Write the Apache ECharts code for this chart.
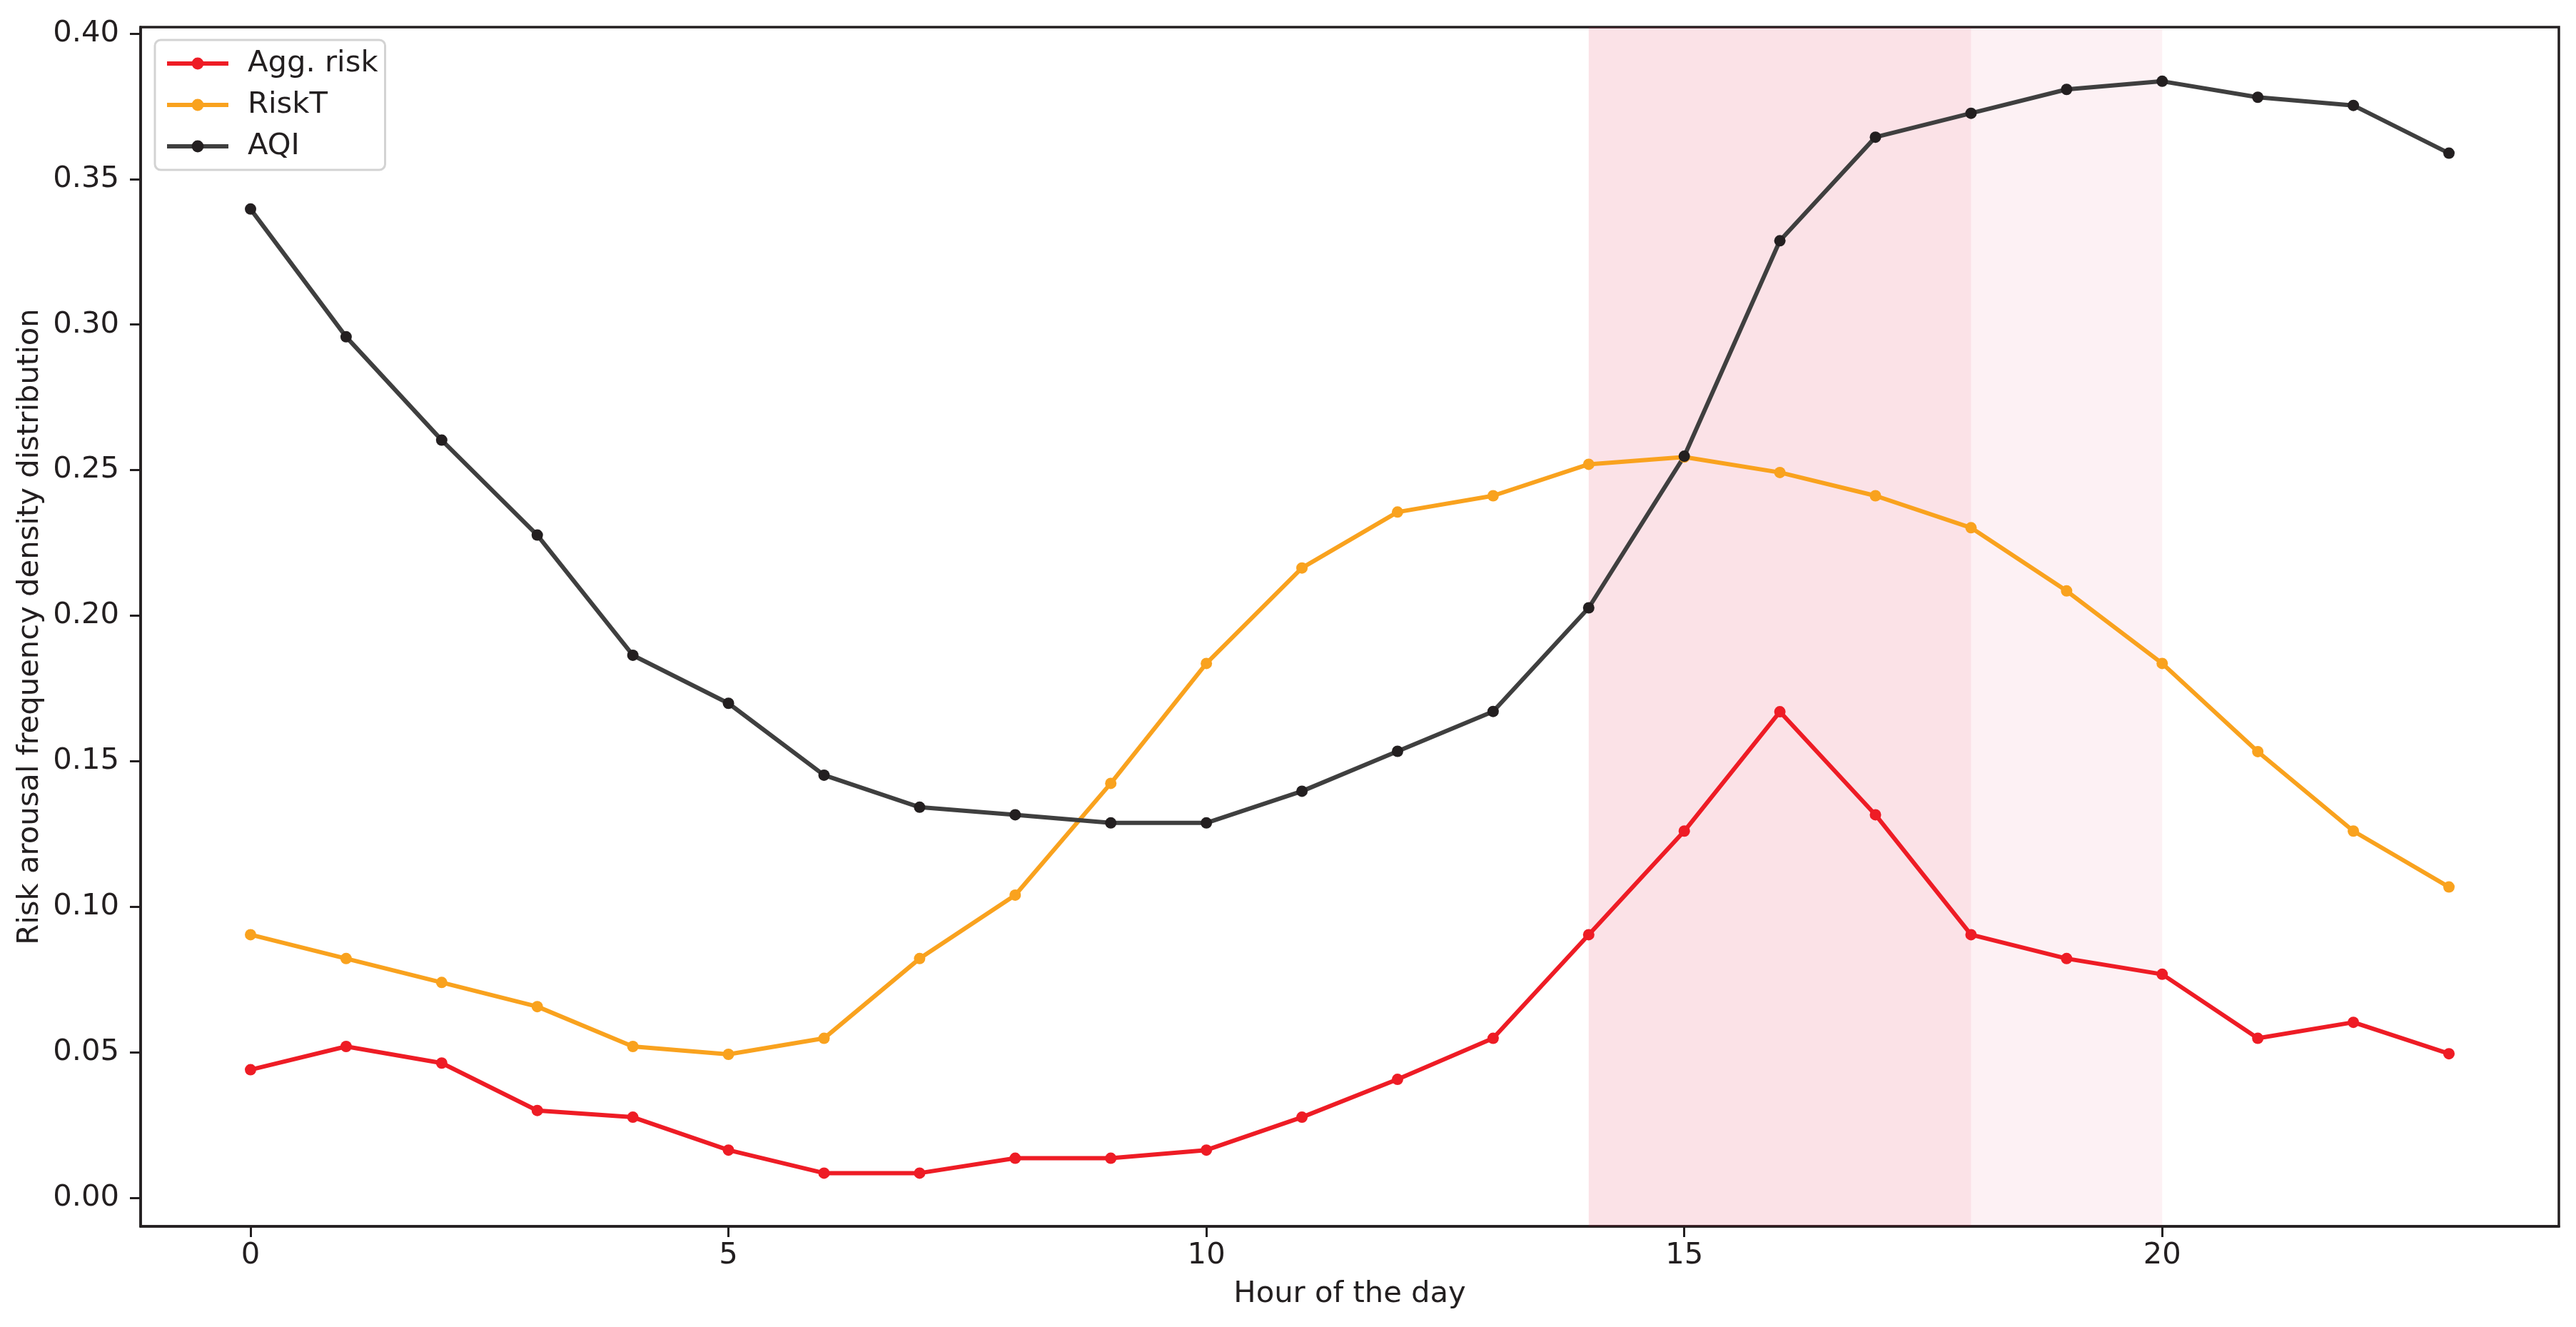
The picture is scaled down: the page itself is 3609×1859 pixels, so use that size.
<!DOCTYPE html>
<html>
<head>
<meta charset="utf-8">
<script src="https://cdn.jsdelivr.net/npm/echarts@6/dist/echarts.min.js"></script>
<style>
html,body{margin:0;padding:0;background:#fff;}
#chart{width:3609px;height:1859px;}
</style>
</head>
<body>
<div id="chart"></div>
<script>
const hours = [0,1,2,3,4,5,6,7,8,9,10,11,12,13,14,15,16,17,18,19,20,21,22,23];
const aggRisk = [0.0440,0.0520,0.0463,0.0300,0.0277,0.0164,0.0085,0.0085,0.0136,0.0136,0.0164,0.0277,0.0407,0.0548,0.0904,0.1260,0.1670,0.1316,0.0904,0.0822,0.0768,0.0548,0.0603,0.0495];
const riskT = [0.0904,0.0822,0.0740,0.0657,0.0520,0.0493,0.0548,0.0822,0.1040,0.1424,0.1836,0.2164,0.2356,0.2412,0.2520,0.2545,0.2492,0.2412,0.2302,0.2085,0.1836,0.1533,0.1260,0.1068];
const aqi = [0.3397,0.2958,0.2603,0.2277,0.1864,0.1699,0.1452,0.1342,0.1316,0.1288,0.1288,0.1397,0.1534,0.1671,0.2027,0.2548,0.3288,0.3644,0.3726,0.3808,0.3836,0.3781,0.3753,0.3589];
const seriesNames = ['Agg. risk','RiskT','AQI'];
const xTicks = [0,5,10,15,20];
const yTicks = [0,0.05,0.10,0.15,0.20,0.25,0.30,0.35,0.40];
const spanStrong = [14,18];
const spanLight = [18,20];

const font = 'DejaVu Sans';
const fs = 41.7;
const axisColor = '#231f20';

function pairs(vals){ return hours.map((h,i)=>[h,vals[i]]); }

function lineSeries(name, vals, lineColor, markerColor){
  return {
    name: name, type: 'line', data: pairs(vals),
    symbol: 'circle', symbolSize: 16, showSymbol: true,
    lineStyle: {color: lineColor, width: 6},
    itemStyle: {color: markerColor, borderWidth: 0},
    emphasis: {disabled: true},
    animation: false, z: 3
  };
}

const chart = echarts.init(document.getElementById('chart'), null, {renderer:'canvas'});
chart.setOption({
  backgroundColor: '#ffffff',
  animation: false,
  grid: {left: 197, right: 24, top: 38, bottom: 141, containLabel: false,
    show: true, backgroundColor: 'transparent', borderColor: axisColor, borderWidth: 3.5},
  xAxis: {
    type: 'value', min: -1.15, max: 24.15,
    name: 'Hour of the day', nameLocation: 'middle', nameGap: 74,
    nameTextStyle: {fontFamily: font, fontSize: fs, color: axisColor},
    axisLine: {show: true, onZero: false, lineStyle: {color: axisColor, width: 3.5}},
    axisTick: {show: true, length: 15, lineStyle: {color: axisColor, width: 3}, customValues: xTicks},
    axisLabel: {fontFamily: font, fontSize: fs, color: axisColor, margin: 20, customValues: xTicks,
      formatter: v => String(v)},
    splitLine: {show: false}
  },
  yAxis: {
    type: 'value', min: -0.0098, max: 0.4022,
    name: 'Risk arousal frequency density distribution', nameLocation: 'middle', nameGap: 128,
    nameRotate: 90,
    nameTextStyle: {fontFamily: font, fontSize: fs, color: axisColor},
    axisLine: {show: true, onZero: false, lineStyle: {color: axisColor, width: 3.5}},
    axisTick: {show: true, length: 15, lineStyle: {color: axisColor, width: 3}, customValues: yTicks},
    axisLabel: {fontFamily: font, fontSize: fs, color: axisColor, margin: 30, customValues: yTicks,
      formatter: v => v.toFixed(2)},
    splitLine: {show: false}
  },
  legend: {
    show: true, orient: 'vertical', left: 217, top: 56,
    data: seriesNames,
    backgroundColor: '#ffffff', borderColor: '#d3d3d3', borderWidth: 3, borderRadius: 8,
    padding: [12, 10, 12, 14],
    itemWidth: 86, itemHeight: 21, itemGap: 16,
    lineStyle: {width: 6},
    textStyle: {fontFamily: font, fontSize: fs, color: axisColor, lineHeight: 42, padding: [0,0,0,22]},
    selectedMode: false
  },
  series: [
    lineSeries(seriesNames[0], aggRisk, '#ee1c25', '#ee1c25'),
    lineSeries(seriesNames[1], riskT, '#f9a21e', '#f9a21e'),
    lineSeries(seriesNames[2], aqi, '#3f3f3f', '#231f20'),
    {
      name: 'spans', type: 'line', data: [], z: 10, silent: true,
      markArea: {
        silent: true,
        data: [
          [{xAxis: spanStrong[0], itemStyle: {color: 'rgba(220,20,60,0.12)'}}, {xAxis: spanStrong[1]}],
          [{xAxis: spanLight[0], itemStyle: {color: 'rgba(220,20,60,0.06)'}}, {xAxis: spanLight[1]}]
        ]
      }
    }
  ]
});
</script>
</body>
</html>
